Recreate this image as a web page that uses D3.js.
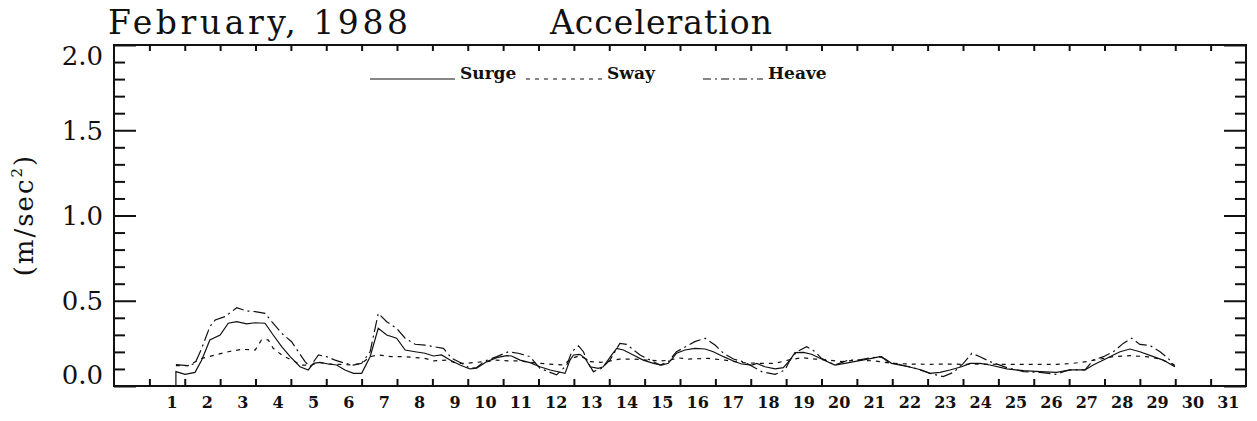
<!DOCTYPE html>
<meta charset="utf-8">
<style>
html,body{margin:0;}
body{background:#fff;}
svg text{font-family:"DejaVu Serif",serif;fill:#111;}
.frame{fill:none;stroke:#111;stroke-width:2px;}
.tick line{stroke:#111;stroke-width:2px;}
.series{fill:none;stroke:#111;stroke-width:1.2px;}
</style>
<script src="https://d3js.org/d3.v7.min.js"></script>
<body>
<script>

// day labels along the bottom, and y ticks
var dayLabels = [1,2,3,4,5,6,7,8,9,10,11,12,13,14,15,16,17,18,19,20,21,22,23,24,25,26,27,28,29,30,31];
var yMajor = [0, 0.5, 1.0, 1.5, 2.0];
var yMinor = [0.1,0.2,0.3,0.4,0.6,0.7,0.8,0.9,1.1,1.2,1.3,1.4,1.6,1.7,1.8,1.9];
var yLabels = ["0.0","0.5","1.0","1.5","2.0"];

// [day, m/sec^2]
var surge = [[1.75,0],[1.75,0.084],[2.01,0.068],[2.29,0.080],[2.48,0.152],[2.71,0.270],[3.0,0.299],[3.23,0.368],[3.47,0.377],[3.75,0.364],[3.99,0.371],[4.27,0.368],[4.5,0.299],[4.74,0.231],[4.98,0.172],[5.26,0.113],[5.49,0.094],[5.64,0.133],[5.82,0.139],[6.06,0.129],[6.29,0.123],[6.53,0.094],[6.77,0.074],[7.0,0.074],[7.24,0.172],[7.47,0.338],[7.71,0.299],[7.99,0.280],[8.23,0.211],[8.51,0.201],[8.79,0.192],[9.03,0.176],[9.26,0.182],[9.5,0.152],[9.78,0.123],[10.06,0.100],[10.25,0.104],[10.39,0.123],[10.54,0.143],[10.82,0.166],[11.1,0.178],[11.24,0.176],[11.48,0.152],[11.76,0.137],[12.04,0.113],[12.33,0.094],[12.75,0.074],[12.89,0.152],[12.99,0.182],[13.17,0.186],[13.32,0.162],[13.46,0.113],[13.69,0.104],[13.83,0.113],[14.07,0.182],[14.21,0.221],[14.4,0.211],[14.68,0.182],[14.96,0.152],[15.25,0.133],[15.48,0.123],[15.67,0.133],[15.9,0.192],[16.14,0.211],[16.42,0.221],[16.71,0.217],[16.94,0.201],[17.23,0.172],[17.51,0.147],[17.74,0.129],[18.03,0.123],[18.17,0.133],[18.4,0.113],[18.69,0.100],[18.92,0.108],[19.11,0.152],[19.25,0.196],[19.49,0.197],[19.72,0.186],[20.0,0.158],[20.38,0.123],[20.66,0.133],[21.04,0.147],[21.42,0.162],[21.65,0.172],[21.8,0.158],[21.98,0.133],[22.46,0.113],[22.83,0.094],[23.07,0.074],[23.35,0.080],[23.63,0.094],[23.96,0.113],[24.2,0.133],[24.48,0.133],[24.76,0.123],[25.24,0.100],[25.71,0.090],[26.18,0.084],[26.65,0.080],[26.84,0.088],[27.03,0.094],[27.45,0.094],[27.68,0.123],[27.97,0.152],[28.25,0.182],[28.44,0.201],[28.72,0.217],[29.0,0.201],[29.38,0.172],[29.66,0.152],[29.99,0.113]];

var sway = [[1.75,0.12],[2.1,0.12],[2.48,0.162],[2.86,0.182],[3.23,0.201],[3.61,0.215],[3.99,0.211],[4.17,0.270],[4.36,0.270],[4.5,0.221],[4.74,0.182],[5.02,0.152],[5.31,0.123],[5.59,0.123],[5.78,0.139],[6.06,0.129],[6.34,0.127],[6.72,0.123],[7.0,0.133],[7.24,0.172],[7.47,0.182],[7.85,0.172],[8.23,0.172],[8.79,0.162],[9.03,0.147],[9.4,0.152],[9.69,0.133],[9.97,0.133],[10.25,0.139],[10.54,0.143],[10.82,0.152],[11.15,0.147],[11.48,0.147],[11.76,0.139],[12.04,0.133],[12.42,0.127],[12.7,0.123],[12.94,0.162],[13.17,0.178],[13.46,0.143],[13.74,0.139],[13.93,0.143],[14.3,0.158],[14.68,0.158],[15.06,0.152],[15.44,0.147],[15.72,0.152],[15.95,0.165],[16.24,0.158],[16.8,0.162],[17.27,0.152],[17.74,0.137],[18.22,0.133],[18.69,0.133],[19.06,0.152],[19.44,0.166],[19.82,0.158],[20.19,0.152],[20.57,0.143],[20.95,0.152],[21.51,0.147],[21.98,0.133],[22.46,0.129],[23.07,0.127],[23.54,0.129],[24.01,0.127],[24.48,0.129],[24.95,0.127],[25.52,0.127],[26.08,0.127],[26.65,0.127],[27.03,0.131],[27.5,0.143],[27.87,0.158],[28.25,0.172],[28.72,0.178],[29.19,0.172],[29.57,0.158],[29.99,0.123]];

var heave = [[1.75,0.125],[2.1,0.119],[2.29,0.133],[2.48,0.221],[2.71,0.348],[2.86,0.387],[3.14,0.407],[3.47,0.459],[3.75,0.440],[3.99,0.436],[4.27,0.426],[4.46,0.377],[4.74,0.309],[5.02,0.260],[5.21,0.201],[5.4,0.143],[5.54,0.113],[5.78,0.182],[6.01,0.172],[6.25,0.152],[6.53,0.133],[6.77,0.123],[7.0,0.133],[7.24,0.201],[7.47,0.426],[7.71,0.377],[7.99,0.338],[8.23,0.280],[8.51,0.245],[8.79,0.240],[9.03,0.231],[9.31,0.221],[9.55,0.162],[9.83,0.133],[10.06,0.104],[10.25,0.108],[10.49,0.147],[10.82,0.172],[11.15,0.201],[11.43,0.192],[11.76,0.172],[12.04,0.104],[12.51,0.065],[12.8,0.123],[12.94,0.201],[13.13,0.235],[13.27,0.201],[13.41,0.133],[13.55,0.084],[13.79,0.104],[14.02,0.152],[14.3,0.250],[14.49,0.244],[14.63,0.221],[14.87,0.182],[15.15,0.152],[15.44,0.123],[15.67,0.143],[15.9,0.201],[16.42,0.260],[16.71,0.280],[16.99,0.240],[17.23,0.192],[17.51,0.158],[17.84,0.139],[18.31,0.084],[18.69,0.068],[18.97,0.094],[19.11,0.152],[19.3,0.201],[19.58,0.231],[19.82,0.201],[20.0,0.162],[20.38,0.123],[20.76,0.152],[21.04,0.152],[21.42,0.166],[21.7,0.172],[21.89,0.139],[22.27,0.123],[22.64,0.104],[23.07,0.074],[23.44,0.055],[23.73,0.080],[24.01,0.133],[24.25,0.192],[24.48,0.172],[24.76,0.143],[25.24,0.108],[25.71,0.084],[26.18,0.080],[26.65,0.068],[26.84,0.084],[27.03,0.094],[27.45,0.094],[27.68,0.152],[27.97,0.172],[28.25,0.201],[28.53,0.250],[28.77,0.280],[29.0,0.244],[29.29,0.237],[29.57,0.201],[29.8,0.162],[29.99,0.113]];

var seriesNames = ["Surge", "Sway", "Heave"];

var width = 1257, height = 421;
var plotL = 114, plotR = 1246, plotT = 45, plotB = 386;

var svg = d3.select("body").append("svg")
    .attr("width", width)
    .attr("height", height);

var x = d3.scaleLinear().domain([0, 32]).range([plotL, plotR]);
var y = d3.scaleLinear().domain([0, 2]).range([plotB, plotT]);

function noDomain(g){ g.select(".domain").remove(); }

// ticks, all pointing into the frame
svg.append("g").attr("transform","translate("+plotL+",0)")
  .call(d3.axisLeft(y).tickValues(yMinor).tickSize(-11).tickFormat("")).call(noDomain);
svg.append("g").attr("transform","translate("+plotL+",0)")
  .call(d3.axisLeft(y).tickValues(yMajor).tickSize(-22).tickFormat("")).call(noDomain);
svg.append("g").attr("transform","translate("+plotR+",0)")
  .call(d3.axisRight(y).tickValues(yMinor).tickSize(-11).tickFormat("")).call(noDomain);
svg.append("g").attr("transform","translate("+plotR+",0)")
  .call(d3.axisRight(y).tickValues(yMajor).tickSize(-22).tickFormat("")).call(noDomain);
svg.append("g").attr("transform","translate(0,"+plotT+")")
  .call(d3.axisTop(x).tickValues(dayLabels).tickSize(-6).tickFormat("")).call(noDomain);
svg.append("g").attr("transform","translate(0,"+plotB+")")
  .call(d3.axisBottom(x).tickValues(dayLabels).tickSize(-7).tickFormat("")).call(noDomain);

svg.append("rect").attr("class","frame")
  .attr("x", plotL).attr("y", plotT)
  .attr("width", plotR-plotL).attr("height", plotB-plotT);

// y labels (kept inside the frame at the ends)
svg.selectAll(".ylab").data(yMajor).enter().append("text")
  .attr("class","ylab")
  .attr("x", 103)
  .attr("y", function(d){ return Math.min(Math.max(y(d), plotT+11), plotB-11); })
  .attr("dy", "0.36em")
  .attr("text-anchor","end")
  .style("font-size","26px")
  .text(function(d,i){ return yLabels[i]; });

// day labels, centred on each day
svg.selectAll(".xlab").data(dayLabels).enter().append("text")
  .attr("class","xlab")
  .attr("x", function(d){ return x(d+0.5); })
  .attr("dx", function(d){ return d < 10 ? 5 : 0; })
  .attr("y", 408)
  .attr("text-anchor","middle")
  .style("font-size","16px")
  .style("font-weight","bold")
  .text(function(d){ return d; });

// titles
svg.append("text").attr("x",108).attr("y",34)
  .attr("textLength",300).attr("lengthAdjust","spacing")
  .style("font-size","33px").text("February, 1988");
svg.append("text").attr("x",550).attr("y",34)
  .attr("textLength",222).attr("lengthAdjust","spacing")
  .style("font-size","33px").text("Acceleration");

var yt = svg.append("text")
  .attr("transform","translate(33,215) rotate(-90)")
  .attr("text-anchor","middle")
  .style("font-size","26px")
  .style("letter-spacing","2px");
yt.append("tspan").text("(m/sec");
yt.append("tspan").attr("dy",-11).style("font-size","15px").text("2");
yt.append("tspan").attr("dy",11).text(")");

// series
var line = d3.line()
  .x(function(d){ return x(d[0]); })
  .y(function(d){ return y(d[1]); });

var dashes = ["none", "4,5", "12,4,2,4"];

svg.append("path").datum(surge).attr("class","series").attr("d", line);
svg.append("path").datum(sway).attr("class","series").attr("stroke-dasharray", dashes[1]).attr("d", line);
svg.append("path").datum(heave).attr("class","series").attr("stroke-dasharray", dashes[2]).attr("d", line);

// legend
var legend = [
  {x1:370, x2:455, tx:460},
  {x1:526, x2:603, tx:607},
  {x1:703, x2:763, tx:768}
];
legend.forEach(function(l,i){
  svg.append("line").attr("class","series")
    .attr("x1",l.x1).attr("x2",l.x2).attr("y1",79).attr("y2",79)
    .attr("stroke-dasharray", i == 2 ? "8,4,2,4" : dashes[i]);
  svg.append("text").attr("x",l.tx).attr("y",79)
    .style("font-size","17px").style("font-weight","bold")
    .text(seriesNames[i]);
});

</script>
</body>
